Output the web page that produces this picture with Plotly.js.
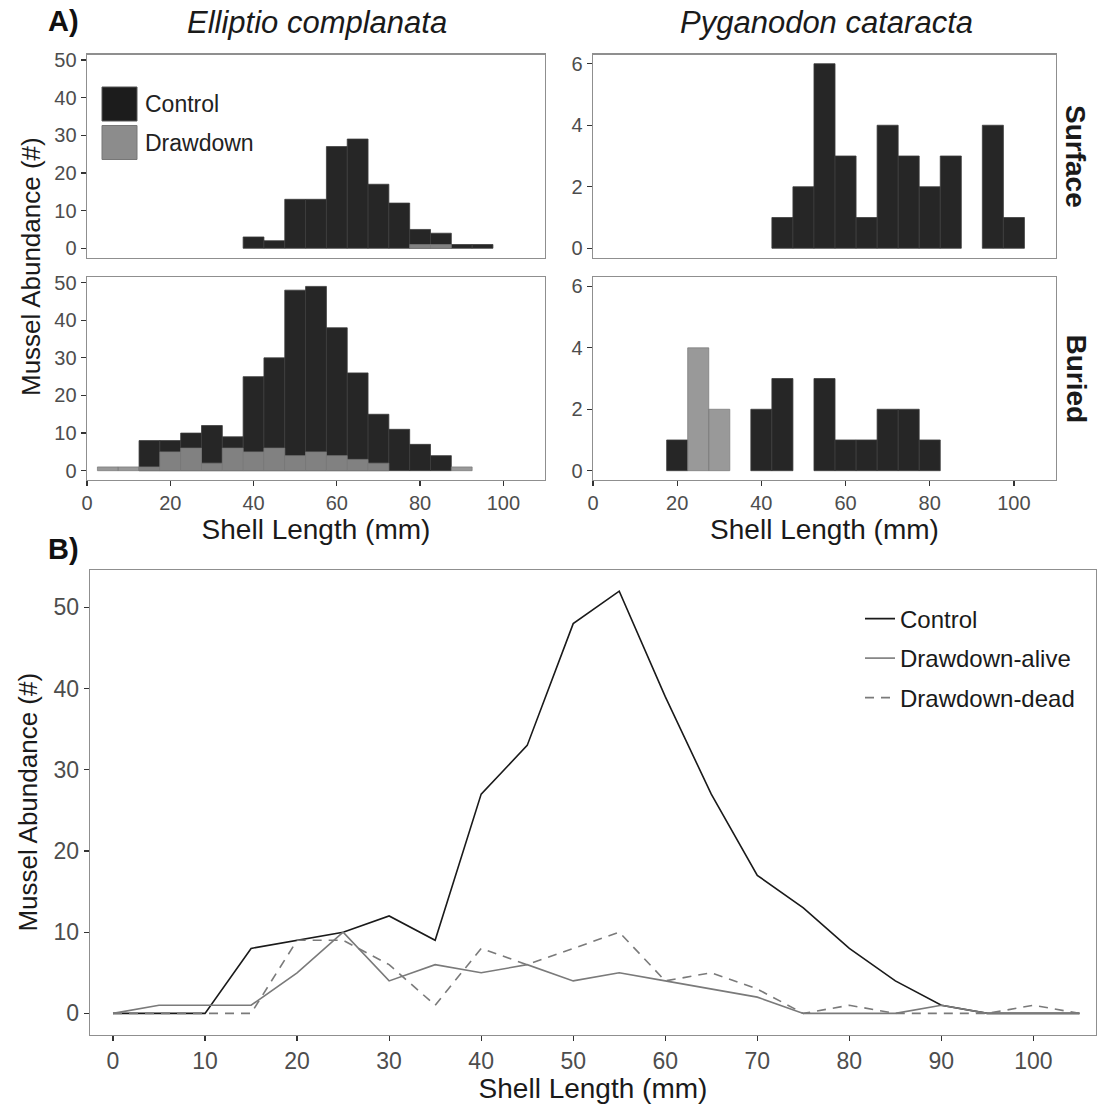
<!DOCTYPE html>
<html>
<head>
<meta charset="utf-8">
<script src="https://cdn.plot.ly/plotly-3.0.1.min.js"></script>
<style>
  html, body { margin: 0; padding: 0; background: #fff; }
  #fig { width: 1097px; height: 1106px; }
</style>
</head>
<body>
<div id="fig"></div>
<script>
// Size-class midpoints (mm) for the 5 mm histogram bins
const binMid = [5, 10, 15, 20, 25, 30, 35, 40, 45, 50, 55, 60, 65, 70, 75, 80, 85, 90, 95, 100];

// Elliptio complanata counts per bin
const ellSurfaceControl  = [0, 0, 0, 0, 0, 0, 0, 3, 2, 13, 13, 27, 29, 17, 12, 5, 4, 1, 1, 0];
const ellSurfaceDrawdown = [0, 0, 0, 0, 0, 0, 0, 0, 0, 0, 0, 0, 0, 0, 0, 1, 1, 0, 0, 0];
const ellBuriedControl   = [0, 0, 8, 8, 10, 12, 9, 25, 30, 48, 49, 38, 26, 15, 11, 7, 4, 0, 0, 0];
const ellBuriedDrawdown  = [1, 1, 1, 5, 6, 2, 6, 5, 6, 4, 5, 4, 3, 2, 0, 0, 0, 1, 0, 0];

// Pyganodon cataracta counts per bin
const pygSurfaceControl  = [0, 0, 0, 0, 0, 0, 0, 0, 1, 2, 6, 3, 1, 4, 3, 2, 3, 0, 4, 1];
const pygSurfaceDrawdown = [0, 0, 0, 0, 0, 0, 0, 0, 0, 0, 0, 0, 0, 0, 0, 0, 0, 0, 0, 0];
const pygBuriedControl   = [0, 0, 0, 1, 0, 0, 0, 2, 3, 0, 3, 1, 1, 2, 2, 1, 0, 0, 0, 0];
const pygBuriedDrawdown  = [0, 0, 0, 0, 4, 2, 0, 0, 0, 0, 0, 0, 0, 0, 0, 0, 0, 0, 0, 0];

// Panel B: abundance by shell length
const lengthMm      = [0, 5, 10, 15, 20, 25, 30, 35, 40, 45, 50, 55, 60, 65, 70, 75, 80, 85, 90, 95, 100, 105];
const controlLine   = [0, 0, 0, 8, 9, 10, 12, 9, 27, 33, 48, 52, 39, 27, 17, 13, 8, 4, 1, 0, 0, 0];
const drawdownAlive = [0, 1, 1, 1, 5, 10, 4, 6, 5, 6, 4, 5, 4, 3, 2, 0, 0, 0, 1, 0, 0, 0];
const drawdownDead  = [0, 0, 0, 0, 9, 9, 6, 1, 8, 6, 8, 10, 4, 5, 3, 0, 1, 0, 0, 0, 1, 0];

const histTicksX = [0, 20, 40, 60, 80, 100];
const ellTicksY = [0, 10, 20, 30, 40, 50];
const pygTicksY = [0, 2, 4, 6];
const lineTicksX = [0, 10, 20, 30, 40, 50, 60, 70, 80, 90, 100];
const lineTicksY = [0, 10, 20, 30, 40, 50];

const FONT = 'Liberation Sans, Arial, Helvetica, sans-serif';
const W = 1097, H = 1106;
const px = v => v / W;            // horizontal pixel -> paper
const py = v => 1 - v / H;        // vertical pixel (from top) -> paper

const CONTROL_FILL = '#262626';
const DRAWDOWN_FILL = 'rgba(140,140,140,0.89)';

const nz = arr => arr.map(v => (v === 0 ? null : v));

function histPair(ctrl, drw, xa, ya) {
  return [
    {
      type: 'bar', x: binMid, y: nz(ctrl), width: 5, xaxis: xa, yaxis: ya,
      name: 'Control', showlegend: false, hoverinfo: 'skip',
      marker: { color: CONTROL_FILL, line: { color: '#3c3c3c', width: 0.8 } }
    },
    {
      type: 'bar', x: binMid, y: nz(drw), width: 5, xaxis: xa, yaxis: ya,
      name: 'Drawdown', showlegend: false, hoverinfo: 'skip',
      marker: { color: DRAWDOWN_FILL, line: { color: 'rgba(120,120,120,0.9)', width: 0.8 } }
    }
  ];
}

const data = [
  ...histPair(ellSurfaceControl, ellSurfaceDrawdown, 'x', 'y'),
  ...histPair(pygSurfaceControl, pygSurfaceDrawdown, 'x2', 'y2'),
  ...histPair(ellBuriedControl, ellBuriedDrawdown, 'x3', 'y3'),
  ...histPair(pygBuriedControl, pygBuriedDrawdown, 'x4', 'y4'),
  {
    type: 'scatter', mode: 'lines', x: lengthMm, y: controlLine, xaxis: 'x5', yaxis: 'y5',
    name: 'Control', legend: 'legend', hoverinfo: 'skip',
    line: { color: '#1a1a1a', width: 1.6 }
  },
  {
    type: 'scatter', mode: 'lines', x: lengthMm, y: drawdownAlive, xaxis: 'x5', yaxis: 'y5',
    name: 'Drawdown-alive', legend: 'legend2', hoverinfo: 'skip',
    line: { color: '#7a7a7a', width: 1.6 }
  },
  {
    type: 'scatter', mode: 'lines', x: lengthMm, y: drawdownDead, xaxis: 'x5', yaxis: 'y5',
    name: 'Drawdown-dead', legend: 'legend3', hoverinfo: 'skip',
    line: { color: '#7a7a7a', width: 1.6, dash: '9px,7px' }
  }
];

const tickFont = { family: FONT, size: 20, color: '#4d4d4d' };
const frame = {
  showline: true, mirror: true, linecolor: '#8f8f8f', linewidth: 1.4,
  showgrid: false, zeroline: false, ticks: 'outside', ticklen: 5,
  tickcolor: '#333333', tickwidth: 1.2, tickfont: tickFont, fixedrange: true
};

const xLeft = [px(87), px(545)];
const xRight = [px(593), px(1056)];
const yTop = [py(257.5), py(54.5)];
const yBottom = [py(479.9), py(277.2)];

const xTitle = {
  text: 'Shell Length (mm)', standoff: 5,
  font: { family: FONT, size: 28, color: '#1a1a1a' }
};

const legendBase = {
  xanchor: 'left', yanchor: 'middle', bgcolor: 'rgba(0,0,0,0)',
  borderwidth: 0, font: { family: FONT, size: 24, color: '#1a1a1a' }
};

const layout = {
  width: W, height: H, autosize: false,
  margin: { l: 0, r: 0, t: 0, b: 0, pad: 0 },
  paper_bgcolor: '#ffffff', plot_bgcolor: '#ffffff',
  barmode: 'overlay', bargap: 0,
  font: { family: FONT },

  xaxis:  { ...frame, domain: xLeft,  anchor: 'y',  range: [0, 110], tickvals: histTicksX, showticklabels: false, ticks: '' },
  yaxis:  { ...frame, domain: yTop,   anchor: 'x',  range: [-2.45, 51.45], tickvals: ellTicksY },
  xaxis2: { ...frame, domain: xRight, anchor: 'y2', range: [0, 110], tickvals: histTicksX, showticklabels: false, ticks: '' },
  yaxis2: { ...frame, domain: yTop,   anchor: 'x2', range: [-0.3, 6.3], tickvals: pygTicksY },
  xaxis3: { ...frame, domain: xLeft,  anchor: 'y3', range: [0, 110], tickvals: histTicksX, title: xTitle },
  yaxis3: { ...frame, domain: yBottom, anchor: 'x3', range: [-2.45, 51.45], tickvals: ellTicksY },
  xaxis4: { ...frame, domain: xRight, anchor: 'y4', range: [0, 110], tickvals: histTicksX, title: xTitle },
  yaxis4: { ...frame, domain: yBottom, anchor: 'x4', range: [-0.3, 6.3], tickvals: pygTicksY },

  xaxis5: {
    ...frame, domain: [px(90), px(1096)], anchor: 'y5', range: [-2.5, 106.8],
    tickvals: lineTicksX, tickfont: { ...tickFont, size: 23 },
    title: { text: 'Shell Length (mm)', standoff: 4, font: { family: FONT, size: 28, color: '#1a1a1a' } }
  },
  yaxis5: {
    ...frame, domain: [py(1034.5), py(570)], anchor: 'x5', range: [-2.6, 54.6],
    tickvals: lineTicksY, tickfont: { ...tickFont, size: 23 },
    title: { text: 'Mussel Abundance (#)', standoff: 8, font: { family: FONT, size: 26, color: '#1a1a1a' } }
  },

  legend:  { ...legendBase, x: px(860), y: py(619) },
  legend2: { ...legendBase, x: px(860), y: py(658.5) },
  legend3: { ...legendBase, x: px(860), y: py(698) },

  shapes: [
    // key swatches for the histogram fills
    { type: 'rect', xref: 'paper', yref: 'paper', x0: px(102), x1: px(137), y0: py(121), y1: py(87),
      fillcolor: '#1c1c1c', line: { color: '#555555', width: 1 } },
    { type: 'rect', xref: 'paper', yref: 'paper', x0: px(102), x1: px(137), y0: py(159.5), y1: py(125.5),
      fillcolor: '#8c8c8c', line: { color: '#777777', width: 1 } }
  ],

  annotations: [
    { text: '<b>A)</b>', xref: 'paper', yref: 'paper', x: px(46), y: py(21), xanchor: 'left', yanchor: 'middle',
      showarrow: false, font: { family: FONT, size: 29, color: '#111111' } },
    { text: '<b>B)</b>', xref: 'paper', yref: 'paper', x: px(46), y: py(549), xanchor: 'left', yanchor: 'middle',
      showarrow: false, font: { family: FONT, size: 29, color: '#111111' } },
    { text: '<i>Elliptio complanata</i>', xref: 'paper', yref: 'paper', x: px(317), y: py(22), xanchor: 'center', yanchor: 'middle',
      showarrow: false, font: { family: FONT, size: 31, color: '#1a1a1a' } },
    { text: '<i>Pyganodon cataracta</i>', xref: 'paper', yref: 'paper', x: px(826), y: py(22), xanchor: 'center', yanchor: 'middle',
      showarrow: false, font: { family: FONT, size: 31, color: '#1a1a1a' } },
    { text: '<b>Surface</b>', xref: 'paper', yref: 'paper', x: px(1076), y: py(156), xanchor: 'center', yanchor: 'middle',
      textangle: 90, showarrow: false, font: { family: FONT, size: 28, color: '#1a1a1a' } },
    { text: '<b>Buried</b>', xref: 'paper', yref: 'paper', x: px(1076), y: py(378.5), xanchor: 'center', yanchor: 'middle',
      textangle: 90, showarrow: false, font: { family: FONT, size: 28, color: '#1a1a1a' } },
    { text: 'Mussel Abundance (#)', xref: 'paper', yref: 'paper', x: px(31), y: py(267), xanchor: 'center', yanchor: 'middle',
      textangle: -90, showarrow: false, font: { family: FONT, size: 26, color: '#1a1a1a' } },
    { text: 'Control', xref: 'paper', yref: 'paper', x: px(143), y: py(104), xanchor: 'left', yanchor: 'middle',
      showarrow: false, font: { family: FONT, size: 23, color: '#222222' } },
    { text: 'Drawdown', xref: 'paper', yref: 'paper', x: px(143), y: py(142.5), xanchor: 'left', yanchor: 'middle',
      showarrow: false, font: { family: FONT, size: 23, color: '#222222' } }
  ]
};

Plotly.newPlot('fig', data, layout, { staticPlot: true, displayModeBar: false });
</script>
</body>
</html>
